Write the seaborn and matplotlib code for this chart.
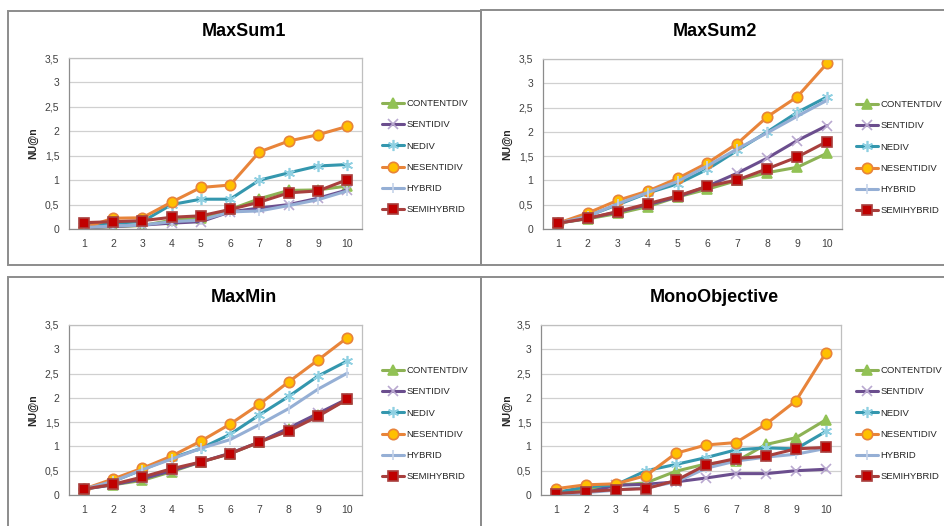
import numpy as np
import pandas as pd
import matplotlib
matplotlib.use("Agg")
import matplotlib.pyplot as plt
import seaborn as sns
from matplotlib.patches import Rectangle
from matplotlib.ticker import FuncFormatter

# data
ranks = [1, 2, 3, 4, 5, 6, 7, 8, 9, 10]
methods = ["CONTENTDIV", "SENTIDIV", "NEDIV", "NESENTIDIV", "HYBRID", "SEMIHYBRID"]

maxsum1_contentdiv = [0.02, 0.05, 0.07, 0.18, 0.23, 0.40, 0.62, 0.79, 0.80, 0.88]
maxsum1_sentidiv = [0.03, 0.05, 0.08, 0.12, 0.15, 0.35, 0.43, 0.50, 0.63, 0.80]
maxsum1_nediv = [0.10, 0.12, 0.15, 0.50, 0.61, 0.61, 1.00, 1.15, 1.29, 1.32]
maxsum1_nesentidiv = [0.02, 0.22, 0.23, 0.55, 0.85, 0.90, 1.58, 1.80, 1.93, 2.10]
maxsum1_hybrid = [0.03, 0.06, 0.08, 0.15, 0.18, 0.35, 0.37, 0.48, 0.60, 0.78]
maxsum1_semihybrid = [0.13, 0.15, 0.17, 0.24, 0.27, 0.40, 0.55, 0.74, 0.78, 1.01]

maxsum2_contentdiv = [0.12, 0.21, 0.32, 0.46, 0.66, 0.82, 1.00, 1.16, 1.27, 1.56]
maxsum2_sentidiv = [0.12, 0.22, 0.35, 0.50, 0.66, 0.88, 1.15, 1.46, 1.82, 2.13]
maxsum2_nediv = [0.12, 0.27, 0.50, 0.74, 0.93, 1.23, 1.62, 2.00, 2.40, 2.72]
maxsum2_nesentidiv = [0.12, 0.33, 0.59, 0.78, 1.04, 1.36, 1.76, 2.31, 2.72, 3.41]
maxsum2_hybrid = [0.12, 0.26, 0.52, 0.75, 0.98, 1.30, 1.65, 1.98, 2.32, 2.65]
maxsum2_semihybrid = [0.12, 0.22, 0.36, 0.52, 0.68, 0.88, 1.01, 1.24, 1.48, 1.80]

maxmin_contentdiv = [0.12, 0.21, 0.30, 0.48, 0.68, 0.85, 1.09, 1.36, 1.65, 1.97]
maxmin_sentidiv = [0.12, 0.21, 0.33, 0.50, 0.68, 0.86, 1.09, 1.38, 1.68, 1.98]
maxmin_nediv = [0.12, 0.28, 0.52, 0.76, 0.96, 1.25, 1.65, 2.03, 2.45, 2.76]
maxmin_nesentidiv = [0.12, 0.33, 0.55, 0.80, 1.11, 1.46, 1.87, 2.33, 2.78, 3.24]
maxmin_hybrid = [0.12, 0.28, 0.52, 0.74, 0.96, 1.14, 1.45, 1.78, 2.18, 2.51]
maxmin_semihybrid = [0.12, 0.22, 0.37, 0.54, 0.68, 0.85, 1.09, 1.32, 1.62, 1.97]

mono_contentdiv = [0.03, 0.12, 0.20, 0.25, 0.49, 0.64, 0.69, 1.04, 1.18, 1.55]
mono_sentidiv = [0.02, 0.05, 0.20, 0.22, 0.27, 0.35, 0.44, 0.44, 0.50, 0.53]
mono_nediv = [0.05, 0.17, 0.21, 0.50, 0.63, 0.77, 0.93, 0.97, 0.95, 1.31]
mono_nesentidiv = [0.13, 0.21, 0.23, 0.40, 0.86, 1.03, 1.08, 1.46, 1.94, 2.93]
mono_hybrid = [0.02, 0.05, 0.10, 0.15, 0.27, 0.55, 0.70, 0.78, 0.84, 0.96]
mono_semihybrid = [0.03, 0.07, 0.11, 0.13, 0.30, 0.62, 0.75, 0.80, 0.95, 0.98]

panels = [
    ("MaxSum1", [maxsum1_contentdiv, maxsum1_sentidiv, maxsum1_nediv,
                 maxsum1_nesentidiv, maxsum1_hybrid, maxsum1_semihybrid]),
    ("MaxSum2", [maxsum2_contentdiv, maxsum2_sentidiv, maxsum2_nediv,
                 maxsum2_nesentidiv, maxsum2_hybrid, maxsum2_semihybrid]),
    ("MaxMin", [maxmin_contentdiv, maxmin_sentidiv, maxmin_nediv,
                maxmin_nesentidiv, maxmin_hybrid, maxmin_semihybrid]),
    ("MonoObjective", [mono_contentdiv, mono_sentidiv, mono_nediv,
                       mono_nesentidiv, mono_hybrid, mono_semihybrid]),
]

# styles per method
line_colors = {"CONTENTDIV": "#8DB255", "SENTIDIV": "#6B4E8E", "NEDIV": "#3497AE",
               "NESENTIDIV": "#E8843A", "HYBRID": "#95AFD5", "SEMIHYBRID": "#A8403E"}
marker_face = {"CONTENTDIV": "#92C255", "SENTIDIV": "#B9A8D0", "NEDIV": "#8FD0E2",
               "NESENTIDIV": "#FFC000", "HYBRID": "#C6D4EA", "SEMIHYBRID": "#C00000"}
marker_edge = {"CONTENTDIV": "#92C255", "SENTIDIV": "#B9A8D0", "NEDIV": "#8FD0E2",
               "NESENTIDIV": "#E8843A", "HYBRID": "#C6D4EA", "SEMIHYBRID": "#A8403E"}
markers = {"CONTENTDIV": "^", "SENTIDIV": "x", "NEDIV": (6, 2, 0),
           "NESENTIDIV": "o", "HYBRID": "|", "SEMIHYBRID": "s"}
msizes = {"CONTENTDIV": 7, "SENTIDIV": 7, "NEDIV": 8,
          "NESENTIDIV": 7.5, "HYBRID": 7, "SEMIHYBRID": 7.5}

sns.set_style("white")
plt.rcParams['font.family'] = ['Liberation Sans', 'DejaVu Sans']

fig = plt.figure(figsize=(9.44, 5.26), dpi=100)
W, H = 944, 526

# panel frames (pixel coords)
frames = [(8, 11, 481, 265), (481, 10, 950, 265), (8, 277, 481, 530), (481, 277, 950, 530)]
for (x0, y0, x1, y1) in frames:
    fig.patches.append(Rectangle((x0 / W, 1 - y1 / H), (x1 - x0) / W, (y1 - y0) / H,
                                 transform=fig.transFigure, fill=False,
                                 edgecolor="#8C8C8C", linewidth=1.4, zorder=0))

# plot areas: left, top, right, bottom in pixels
areas = [(69, 58, 362, 229), (543, 59, 842, 229), (69, 325, 362, 495), (541, 325, 841, 495)]
title_pos = [(244, 31), (715, 31), (244, 298), (714, 298)]
ylabel_x = [33, 507, 33, 507]
legend_x = [382, 856, 382, 856]

fmt = FuncFormatter(lambda v, p: ("%g" % v).replace(".", ","))

for i, (name, series) in enumerate(panels):
    l, t, r, b = areas[i]
    ax = fig.add_axes([l / W, 1 - b / H, (r - l) / W, (b - t) / H])
    for m, vals in zip(methods, series):
        df = pd.DataFrame({"rank": ranks, "nu": vals})
        sns.lineplot(data=df, x="rank", y="nu", ax=ax, color=line_colors[m],
                     linewidth=2.2, marker=markers[m], markersize=msizes[m],
                     markerfacecolor=marker_face[m], markeredgecolor=marker_edge[m],
                     markeredgewidth=1.2, label=m)
    ax.set_xlim(0.5, 10.5)
    ax.set_ylim(0, 3.5)
    ax.set_xticks(ranks)
    ax.set_yticks(np.arange(0, 3.51, 0.5))
    ax.yaxis.set_major_formatter(fmt)
    ax.grid(axis="y", color="#D0D0D0", linewidth=0.9)
    ax.set_axisbelow(True)
    for s in ax.spines.values():
        s.set_color("#BFBFBF")
        s.set_linewidth(0.9)
    ax.spines["left"].set_color("#8C8C8C")
    ax.spines["bottom"].set_color("#8C8C8C")
    ax.tick_params(axis="both", length=0, labelsize=7.5, labelcolor="#404040", pad=7)
    ax.set_xlabel("")
    ax.set_ylabel("")
    fig.text(ylabel_x[i] / W, 1 - ((t + b) / 2) / H, "NU@n", rotation=90,
             fontsize=7.5, fontweight="bold", ha="center", va="center", color="#262626")
    fig.text(title_pos[i][0] / W, 1 - title_pos[i][1] / H, name, fontsize=13,
             fontweight="bold", ha="center", va="center", color="#000000")
    ax.legend(loc="upper left", bbox_to_anchor=(legend_x[i] / W, 1 - (t + 41) / H),
              bbox_transform=fig.transFigure, frameon=False, fontsize=6.8,
              handlelength=2.3, handletextpad=0.25, labelspacing=1.3,
              borderaxespad=0, borderpad=0, labelcolor="#262626")

plt.savefig("out.png", dpi=100)
